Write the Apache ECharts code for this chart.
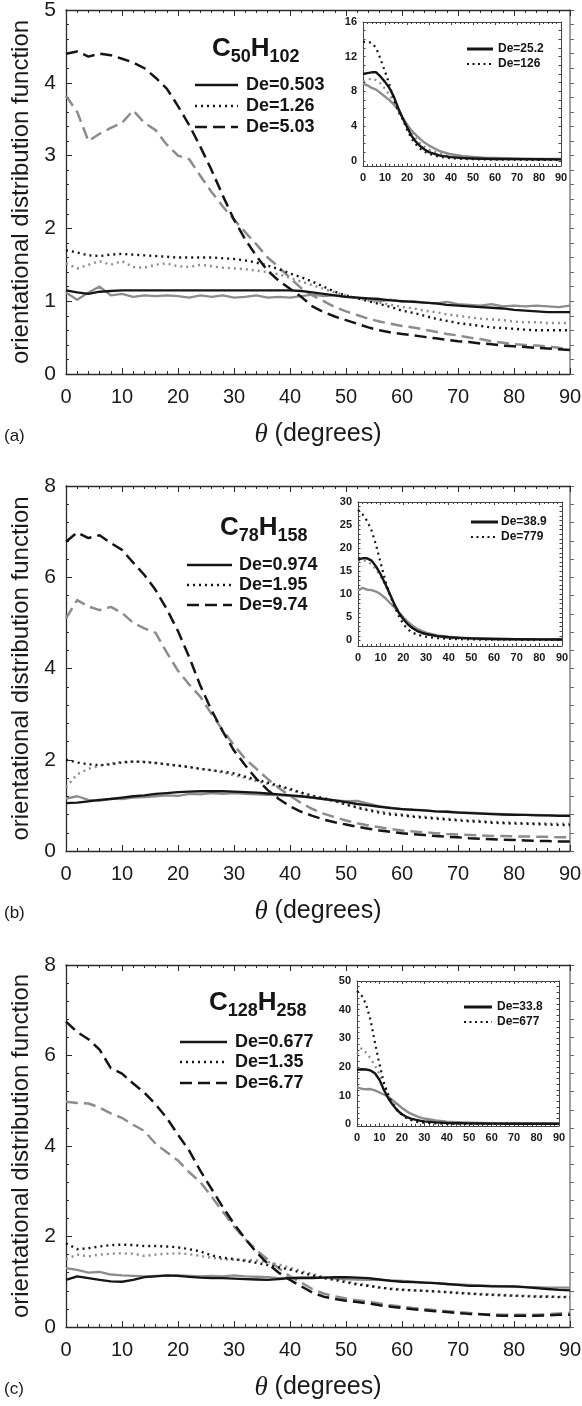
<!DOCTYPE html>
<html><head><meta charset="utf-8">
<script src="https://cdn.jsdelivr.net/npm/echarts@6/dist/echarts.min.js"></script>
<style>html,body{margin:0;padding:0;background:#fff}#c{width:582px;height:1406px}</style>
</head><body><div id="c"></div>
<script>
// ---------------- DATA ----------------
const thetaMain = [0,2,4,6,8,10,12,14,16,18,20,22,24,26,28,30,32,34,36,38,40,42,44,46,48,50,52,54,56,58,60,62,64,66,68,70,72,74,76,78,80,82,84,86,88,90];
const thetaInset = [0,2,4,6,8,10,12,14,16,18,20,22,24,26,28,30,35,40,45,50,55,60,70,80,90];
const xTicks = [0,10,20,30,40,50,60,70,80,90];

// panel (a) C50H102
const aLabels = ['De=0.503','De=1.26','De=5.03'];
const aInsetLabels = ['De=25.2','De=126'];
const aBlackSolid = [1.15,1.12,1.10,1.13,1.14,1.15,1.15,1.15,1.15,1.15, 1.15,1.15,1.15,1.15,1.15,1.15,1.15,1.15,1.15,1.15, 1.15,1.14,1.12,1.10,1.08,1.06,1.05,1.04,1.03,1.01, 1.00,0.99,0.98,0.97,0.95,0.94,0.93,0.92,0.91,0.90, 0.88,0.87,0.86,0.85,0.85,0.85];
const aGraySolid = [1.12,1.02,1.12,1.20,1.08,1.10,1.06,1.08,1.07,1.08, 1.07,1.05,1.08,1.06,1.08,1.05,1.06,1.08,1.05,1.06, 1.05,1.07,1.09,1.07,1.08,1.06,1.05,1.03,1.00,1.02, 0.99,1.00,0.98,0.97,0.99,0.96,0.95,0.94,0.96,0.93, 0.94,0.93,0.94,0.93,0.92,0.94];
const aBlackDot = [1.70,1.67,1.63,1.62,1.64,1.65,1.64,1.63,1.62,1.61, 1.60,1.60,1.60,1.60,1.59,1.58,1.56,1.53,1.49,1.44, 1.38,1.33,1.27,1.20,1.13,1.08,1.04,1.00,0.96,0.92, 0.87,0.84,0.80,0.76,0.73,0.70,0.68,0.66,0.64,0.63, 0.62,0.61,0.60,0.60,0.60,0.60];
const aGrayDot = [1.52,1.45,1.50,1.55,1.50,1.55,1.47,1.46,1.50,1.52, 1.48,1.47,1.50,1.48,1.46,1.45,1.44,1.42,1.40,1.37, 1.32,1.27,1.22,1.17,1.12,1.08,1.04,1.01,0.98,0.95, 0.92,0.90,0.87,0.85,0.82,0.80,0.78,0.76,0.75,0.74, 0.72,0.71,0.71,0.70,0.70,0.70];
const aBlackDash = [4.40,4.43,4.36,4.40,4.38,4.33,4.28,4.20,4.07,3.92, 3.68,3.42,3.12,2.80,2.45,2.12,1.85,1.62,1.42,1.28, 1.17,1.06,0.93,0.85,0.79,0.74,0.69,0.64,0.60,0.57, 0.55,0.53,0.51,0.49,0.47,0.45,0.44,0.42,0.41,0.39, 0.38,0.37,0.36,0.35,0.34,0.33];
const aGrayDash = [3.82,3.60,3.20,3.30,3.38,3.45,3.62,3.45,3.35,3.15, 3.00,2.95,2.72,2.50,2.30,2.12,1.95,1.78,1.60,1.47, 1.32,1.18,1.08,1.00,0.92,0.86,0.81,0.76,0.72,0.69, 0.66,0.64,0.61,0.58,0.55,0.53,0.50,0.48,0.45,0.43, 0.41,0.40,0.39,0.38,0.36,0.33];
const aInBlackSolid = [10.0,10.1,10.2,10.2,9.7,9.1,8.4,7.4,6.1,4.9,3.9,2.9,2.2,1.7,1.3,1.0,0.6,0.42,0.32,0.27,0.23,0.21,0.19,0.17,0.16];
const aInBlackDot = [13.7,13.7,13.6,13.0,11.7,10.3,8.8,7.1,5.7,4.8,3.6,2.6,1.9,1.4,1.05,0.8,0.45,0.3,0.22,0.18,0.15,0.13,0.12,0.11,0.10];
const aInGraySolid = [8.9,8.7,8.4,8.2,7.8,7.4,7.0,6.5,5.9,5.0,4.2,3.5,3.0,2.5,2.1,1.75,1.1,0.75,0.55,0.45,0.37,0.32,0.26,0.22,0.20];
const aInGrayDot = [9.2,9.3,9.5,9.3,8.9,8.3,7.6,6.8,5.9,5.0,4.1,3.3,2.6,2.0,1.6,1.3,0.8,0.5,0.35,0.27,0.22,0.19,0.16,0.14,0.13];

// panel (b) C78H158
const bLabels = ['De=0.974','De=1.95','De=9.74'];
const bInsetLabels = ['De=38.9','De=779'];
const bBlackSolid = [1.05,1.06,1.09,1.12,1.14,1.17,1.20,1.22,1.25,1.27, 1.29,1.30,1.31,1.31,1.31,1.30,1.29,1.28,1.26,1.24, 1.22,1.20,1.17,1.14,1.11,1.07,1.03,1.00,0.97,0.94, 0.92,0.90,0.89,0.87,0.86,0.84,0.83,0.82,0.81,0.80, 0.79,0.79,0.78,0.78,0.77,0.77];
const bGraySolid = [1.15,1.20,1.12,1.10,1.15,1.14,1.17,1.18,1.20,1.22, 1.21,1.25,1.24,1.27,1.25,1.27,1.25,1.24,1.23,1.22, 1.21,1.19,1.17,1.14,1.11,1.09,1.10,1.04,0.98,0.95, 0.92,0.91,0.89,0.87,0.86,0.85,0.84,0.83,0.82,0.81, 0.80,0.79,0.79,0.78,0.78,0.78];
const bBlackDot = [2.00,1.94,1.90,1.88,1.90,1.94,1.96,1.95,1.93,1.90, 1.87,1.84,1.80,1.77,1.74,1.70,1.63,1.56,1.50,1.43, 1.36,1.28,1.21,1.16,1.10,1.02,0.95,0.89,0.84,0.80, 0.78,0.75,0.73,0.71,0.69,0.67,0.65,0.64,0.62,0.61, 0.60,0.60,0.59,0.58,0.57,0.57];
const bGrayDot = [1.40,1.68,1.80,1.87,1.92,1.95,1.96,1.96,1.93,1.90, 1.87,1.84,1.80,1.77,1.72,1.66,1.60,1.53,1.47,1.41, 1.34,1.27,1.20,1.14,1.08,1.02,0.96,0.91,0.87,0.83, 0.80,0.77,0.75,0.73,0.71,0.69,0.67,0.66,0.64,0.63, 0.62,0.61,0.61,0.60,0.60,0.60];
const bBlackDash = [6.78,6.98,6.86,6.92,6.75,6.60,6.32,6.05,5.72,5.30, 4.82,4.25,3.62,3.08,2.62,2.20,1.88,1.58,1.34,1.14, 0.98,0.86,0.77,0.69,0.63,0.58,0.53,0.49,0.45,0.42, 0.39,0.37,0.35,0.33,0.31,0.30,0.28,0.27,0.26,0.25, 0.24,0.23,0.22,0.22,0.21,0.21];
const bGrayDash = [5.10,5.50,5.36,5.28,5.35,5.22,5.00,4.88,4.78,4.35, 3.95,3.65,3.38,3.00,2.65,2.32,2.02,1.80,1.58,1.38, 1.21,1.05,0.92,0.82,0.74,0.67,0.61,0.56,0.52,0.48, 0.45,0.43,0.41,0.39,0.37,0.36,0.35,0.34,0.33,0.33, 0.32,0.32,0.31,0.31,0.30,0.30];
const bInBlackSolid = [17.5,17.8,17.8,17.3,16.0,14.3,12.3,10.1,7.9,6.0,4.6,3.5,2.7,2.1,1.7,1.4,0.95,0.7,0.55,0.45,0.38,0.33,0.27,0.23,0.20];
const bInBlackDot = [28.3,27.3,25.9,23.8,20.6,16.8,13.0,10.0,7.5,5.3,3.5,2.4,1.7,1.3,1.0,0.8,0.5,0.35,0.27,0.22,0.19,0.17,0.15,0.13,0.12];
const bInGraySolid = [10.8,11.4,11.0,10.9,10.6,10.0,9.2,8.2,7.2,6.1,5.0,4.0,3.2,2.6,2.1,1.7,1.1,0.8,0.6,0.5,0.42,0.37,0.30,0.27,0.25];
const bInGrayDot = [17.0,17.3,17.2,16.5,15.3,13.8,12.0,10.0,8.0,6.2,4.7,3.6,2.7,2.1,1.6,1.3,0.8,0.5,0.36,0.28,0.23,0.20,0.17,0.15,0.14];

// panel (c) C128H258
const cLabels = ['De=0.677','De=1.35','De=6.77'];
const cInsetLabels = ['De=33.8','De=677'];
const cBlackSolid = [1.04,1.12,1.08,1.04,1.01,1.00,1.04,1.10,1.12,1.14, 1.13,1.11,1.09,1.08,1.08,1.07,1.06,1.05,1.04,1.06, 1.08,1.08,1.08,1.09,1.10,1.10,1.09,1.08,1.05,1.02, 1.00,0.99,0.98,0.97,0.95,0.93,0.91,0.91,0.90,0.90, 0.90,0.88,0.86,0.84,0.82,0.81];
const cGraySolid = [1.30,1.26,1.20,1.22,1.16,1.14,1.13,1.12,1.13,1.13, 1.14,1.13,1.12,1.13,1.12,1.14,1.12,1.11,1.10,1.08, 1.09,1.10,1.10,1.09,1.07,1.06,1.05,1.04,1.04,1.03, 1.02,1.00,0.98,0.97,0.95,0.94,0.93,0.92,0.91,0.90, 0.89,0.88,0.88,0.87,0.87,0.87];
const cBlackDot = [1.85,1.72,1.74,1.78,1.81,1.82,1.81,1.79,1.79,1.78, 1.76,1.72,1.67,1.58,1.53,1.50,1.46,1.42,1.37,1.32, 1.27,1.20,1.14,1.08,1.04,0.99,0.94,0.91,0.87,0.84, 0.82,0.81,0.80,0.79,0.77,0.75,0.74,0.72,0.71,0.70, 0.69,0.68,0.67,0.67,0.66,0.66];
const cGrayDot = [1.50,1.60,1.56,1.60,1.62,1.63,1.62,1.57,1.60,1.62, 1.63,1.61,1.57,1.53,1.50,1.49,1.48,1.47,1.44,1.38, 1.31,1.24,1.17,1.11,1.06,1.01,0.96,0.92,0.88,0.85, 0.83,0.81,0.80,0.78,0.77,0.76,0.74,0.73,0.72,0.71, 0.70,0.69,0.68,0.68,0.67,0.67];
const cBlackDash = [6.75,6.52,6.36,6.13,5.72,5.60,5.38,5.18,4.92,4.62, 4.25,3.90,3.45,3.05,2.65,2.28,1.95,1.65,1.40,1.20, 1.04,0.90,0.76,0.67,0.62,0.58,0.55,0.52,0.48,0.45, 0.42,0.39,0.37,0.35,0.33,0.31,0.29,0.28,0.26,0.25, 0.25,0.25,0.25,0.26,0.27,0.27];
const cGrayDash = [4.98,4.95,4.94,4.85,4.72,4.62,4.47,4.33,4.05,3.86, 3.68,3.42,3.20,2.88,2.55,2.22,1.94,1.70,1.49,1.30, 1.12,0.98,0.84,0.74,0.68,0.63,0.59,0.56,0.52,0.48, 0.45,0.42,0.40,0.37,0.35,0.33,0.31,0.29,0.28,0.27, 0.27,0.27,0.27,0.28,0.30,0.31];
const cInBlackSolid = [19.0,19.2,19.1,18.8,17.8,15.5,12.0,9.0,6.7,4.8,3.5,2.6,2.0,1.6,1.25,1.0,0.65,0.45,0.35,0.30,0.26,0.23,0.20,0.18,0.17];
const cInBlackDot = [46.5,45.0,42.0,36.5,28.5,21.0,14.5,10.0,7.0,4.8,3.3,2.2,1.5,1.0,0.75,0.55,0.35,0.25,0.20,0.17,0.15,0.13,0.12,0.11,0.10];
const cInGraySolid = [13.0,12.4,12.2,12.3,11.8,11.1,10.4,9.5,8.3,7.0,5.7,4.6,3.7,3.0,2.4,2.0,1.3,0.9,0.7,0.55,0.47,0.42,0.35,0.32,0.30];
const cInGrayDot = [24.5,26.5,25.0,23.0,20.5,17.5,14.0,10.5,7.5,5.2,3.6,2.5,1.8,1.3,1.0,0.75,0.45,0.30,0.22,0.18,0.16,0.14,0.12,0.11,0.10];

const formulas = [['C','50','H','102'],['C','78','H','158'],['C','128','H','258']];
const tags = ['(a)','(b)','(c)'];
const mainYTicks = [[0,1,2,3,4,5],[0,2,4,6,8],[0,2,4,6,8]];
const insetYTicks = [[0,4,8,12,16],[0,5,10,15,20,25,30],[0,10,20,30,40,50]];
const insetYMinor = [[0,1,2,3,4,5,6,7,8,9,10,11,12,13,14,15,16],
  [0,1,2,3,4,5,6,7,8,9,10,11,12,13,14,15,16,17,18,19,20,21,22,23,24,25,26,27,28,29,30],
  [0,2,4,6,8,10,12,14,16,18,20,22,24,26,28,30,32,34,36,38,40,42,44,46,48,50]];

// ---------------- LAYOUT / STYLE ----------------
const FONT = '"Liberation Sans", Arial, Helvetica, sans-serif';
const BLACK = '#151515', GRAY = '#8c8c8c';
const STY = { solid:{type:'solid', width:2.3}, dot:{type:[2,4], width:2.4}, dash:{type:[12,6], width:2.5} };
const layout = [
  {main:{left:66, top:10, width:504, height:364}, inset:{left:363, top:22, width:198, height:144}, iMin:-0.6,
   title:{x:212, y:49}, leg:{x1:195, x2:238, tx:246, y:[85,106,127]}, ileg:{x1:467, x2:493, tx:498, y:[49,64]}},
  {main:{left:66, top:486, width:504, height:365}, inset:{left:358, top:502, width:204, height:144}, iMin:-1.2,
   title:{x:220, y:528}, leg:{x1:187, x2:232, tx:239, y:[565,585,605]}, ileg:{x1:471, x2:498, tx:501, y:[522,537]}},
  {main:{left:66, top:965, width:504, height:362}, inset:{left:357, top:981, width:202, height:145}, iMin:-0.6,
   title:{x:209, y:1003}, leg:{x1:180, x2:227, tx:235, y:[1042,1062,1083]}, ileg:{x1:464, x2:492, tx:497, y:[1007,1022]}}
];
const panelData = [
  {labels:aLabels, iLabels:aInsetLabels, main:[aGraySolid,aGrayDot,aGrayDash,aBlackSolid,aBlackDot,aBlackDash], inset:[aInGraySolid,aInGrayDot,aInBlackSolid,aInBlackDot]},
  {labels:bLabels, iLabels:bInsetLabels, main:[bGraySolid,bGrayDot,bGrayDash,bBlackSolid,bBlackDot,bBlackDash], inset:[bInGraySolid,bInGrayDot,bInBlackSolid,bInBlackDot]},
  {labels:cLabels, iLabels:cInsetLabels, main:[cGraySolid,cGrayDot,cGrayDash,cBlackSolid,cBlackDot,cBlackDash], inset:[cInGraySolid,cInGrayDot,cInBlackSolid,cInBlackDot]}
];
const mainKinds = [['gray','solid'],['gray','dot'],['gray','dash'],['black','solid'],['black','dot'],['black','dash']];
const insetKinds = [['gray','solid'],['gray','dot'],['black','solid'],['black','dot']];

const grids = [], xAxes = [], yAxes = [], series = [], graphics = [];
const AX = '#2a2a2a';

function addMain(p) {
  const L = layout[p], g = grids.length;
  grids.push(Object.assign({show:false, outerBoundsMode:'none', containLabel:false}, L.main));
  const yMax = mainYTicks[p][mainYTicks[p].length-1], yInt = mainYTicks[p][1];
  xAxes.push({gridIndex:g, type:'value', min:0, max:90, interval:10, position:'bottom',
    axisLine:{show:true, onZero:false, lineStyle:{color:AX, width:1.3}},
    axisTick:{show:true, inside:true, length:6, lineStyle:{color:AX, width:1}},
    minorTick:{show:true, splitNumber:5, length:3, lineStyle:{color:AX, width:1}},
    axisLabel:{show:true, fontSize:20, color:'#1a1a1a', fontFamily:FONT, margin:13},
    splitLine:{show:false},
    name:'{t|\u03B8}{n| (degrees)}', nameLocation:'middle', nameGap:47,
    nameTextStyle:{rich:{t:{fontSize:27, fontStyle:'italic', fontFamily:'"Liberation Serif","DejaVu Serif",serif', color:'#1a1a1a'},
                         n:{fontSize:25, fontFamily:FONT, color:'#1a1a1a'}}}});
  xAxes.push({gridIndex:g, type:'value', min:0, max:90, interval:10, position:'top',
    axisLine:{show:true, onZero:false, lineStyle:{color:AX, width:1.3}},
    axisTick:{show:true, inside:true, length:6, lineStyle:{color:AX}},
    minorTick:{show:true, splitNumber:5, length:3, lineStyle:{color:AX}},
    axisLabel:{show:false}, splitLine:{show:false}});
  yAxes.push({gridIndex:g, type:'value', min:0, max:yMax, interval:yInt, position:'left',
    axisLine:{show:true, onZero:false, lineStyle:{color:AX, width:1.3}},
    axisTick:{show:true, inside:true, length:6, lineStyle:{color:AX}},
    minorTick:{show:true, splitNumber:5, length:3, lineStyle:{color:AX}},
    axisLabel:{show:true, fontSize:21, color:'#1a1a1a', fontFamily:FONT, margin:10},
    splitLine:{show:false},
    name:'orientational distribution function', nameLocation:'middle', nameGap:31, nameRotate:90,
    nameTextStyle:{fontSize:24, fontFamily:FONT, color:'#1a1a1a'}});
  yAxes.push({gridIndex:g, type:'value', min:0, max:yMax, interval:yInt, position:'right',
    axisLine:{show:true, onZero:false, lineStyle:{color:'#8a8a8a', width:1.6}},
    axisTick:{show:true, inside:false, length:4, lineStyle:{color:'#666'}},
    minorTick:{show:true, splitNumber:5, length:4, lineStyle:{color:'#666'}},
    axisLabel:{show:false}, splitLine:{show:false}});
  const D = panelData[p];
  D.main.forEach((arr, k) => {
    const [col, st] = mainKinds[k];
    series.push({type:'line', xAxisIndex:2*g, yAxisIndex:2*g, symbol:'none', silent:true,
      z: col === 'black' ? 4 : 3,
      data: thetaMain.map((t, i) => [t, arr[i]]),
      lineStyle:{color: col === 'black' ? BLACK : GRAY, width:STY[st].width, type:STY[st].type, cap:'butt', join:'round'}});
  });
  ['solid','dot','dash'].forEach((st, k) => {
    graphics.push({type:'line', silent:true, shape:{x1:L.leg.x1, y1:L.leg.y[k], x2:L.leg.x2, y2:L.leg.y[k]},
      style:{stroke:BLACK, lineWidth:STY[st].width, lineDash: st === 'solid' ? null : STY[st].type}});
    graphics.push({type:'text', silent:true, x:L.leg.tx, y:L.leg.y[k],
      style:{text:D.labels[k], fontSize:18, fontWeight:'bold', fontFamily:FONT, fill:BLACK, verticalAlign:'middle'}});
  });
  const f = formulas[p];
  graphics.push({type:'text', silent:true, x:L.title.x, y:L.title.y,
    style:{text:'{b|'+f[0]+'}{s|'+f[1]+'}{b|'+f[2]+'}{s|'+f[3]+'}', verticalAlign:'middle', fill:BLACK,
      rich:{b:{fontSize:26, fontWeight:'bold', fontFamily:FONT, fill:BLACK, lineHeight:30},
            s:{fontSize:18, fontWeight:'bold', fontFamily:FONT, fill:BLACK, lineHeight:20, padding:[16,0,0,0]}}}});
  graphics.push({type:'text', silent:true, x:4, y:L.main.top + L.main.height + 62,
    style:{text:tags[p], fontSize:17, fontFamily:FONT, fill:'#1a1a1a', verticalAlign:'middle'}});
}

function addInset(p) {
  const L = layout[p], g = grids.length;
  grids.push(Object.assign({show:false, outerBoundsMode:'none', containLabel:false}, L.inset));
  const yt = insetYTicks[p], yMax = yt[yt.length-1];
  const IAX = '#444';
  const xcommon = {gridIndex:g, type:'value', min:0, max:90, interval:10, splitLine:{show:false},
    axisLine:{show:true, onZero:false, lineStyle:{color:IAX, width:1}},
    axisTick:{show:true, inside:true, length:3, lineStyle:{color:IAX}},
    minorTick:{show:true, splitNumber:5, length:2, lineStyle:{color:IAX}}};
  xAxes.push(Object.assign({}, xcommon, {position:'bottom',
    axisLabel:{show:true, fontSize:11, fontWeight:'bold', color:'#1a1a1a', fontFamily:FONT, margin:6, customValues:xTicks}}));
  xAxes.push(Object.assign({}, xcommon, {position:'top', axisLabel:{show:false}}));
  const ycommon = {gridIndex:g, type:'value', min:L.iMin, max:yMax, splitLine:{show:false},
    axisLine:{show:true, onZero:false, lineStyle:{color:IAX, width:1}},
    axisTick:{show:true, inside:true, length:2.5, lineStyle:{color:IAX}, customValues:insetYMinor[p]},
    minorTick:{show:false}};
  yAxes.push(Object.assign({}, ycommon, {position:'left',
    axisLabel:{show:true, fontSize:11, fontWeight:'bold', color:'#1a1a1a', fontFamily:FONT, margin:6, customValues:yt}}));
  yAxes.push(Object.assign({}, ycommon, {position:'right', axisLabel:{show:false}}));
  const D = panelData[p];
  D.inset.forEach((arr, k) => {
    const [col, st] = insetKinds[k];
    series.push({type:'line', xAxisIndex:2*g, yAxisIndex:2*g, symbol:'none', silent:true,
      z: col === 'black' ? 4 : 3,
      data: thetaInset.map((t, i) => [t, arr[i]]),
      lineStyle:{color: col === 'black' ? BLACK : GRAY, width: st === 'solid' ? 2.4 : 2.2, type:STY[st].type, cap:'butt', join:'round'}});
  });
  ['solid','dot'].forEach((st, k) => {
    graphics.push({type:'line', silent:true, shape:{x1:L.ileg.x1, y1:L.ileg.y[k], x2:L.ileg.x2, y2:L.ileg.y[k]},
      style:{stroke:BLACK, lineWidth: st === 'solid' ? 3 : 2.2, lineDash: st === 'solid' ? null : [2,3.5]}});
    graphics.push({type:'text', silent:true, x:L.ileg.tx, y:L.ileg.y[k],
      style:{text:D.iLabels[k], fontSize:12, fontWeight:'bold', fontFamily:FONT, fill:BLACK, verticalAlign:'middle'}});
  });
}

for (let p = 0; p < 3; p++) { addMain(p); addInset(p); }

const chart = echarts.init(document.getElementById('c'), null, {renderer:'canvas', width:582, height:1406});
chart.setOption({
  animation:false, backgroundColor:'#ffffff',
  textStyle:{fontFamily:FONT},
  grid:grids, xAxis:xAxes, yAxis:yAxes, series:series, graphic:graphics
});
</script>
</body></html>
